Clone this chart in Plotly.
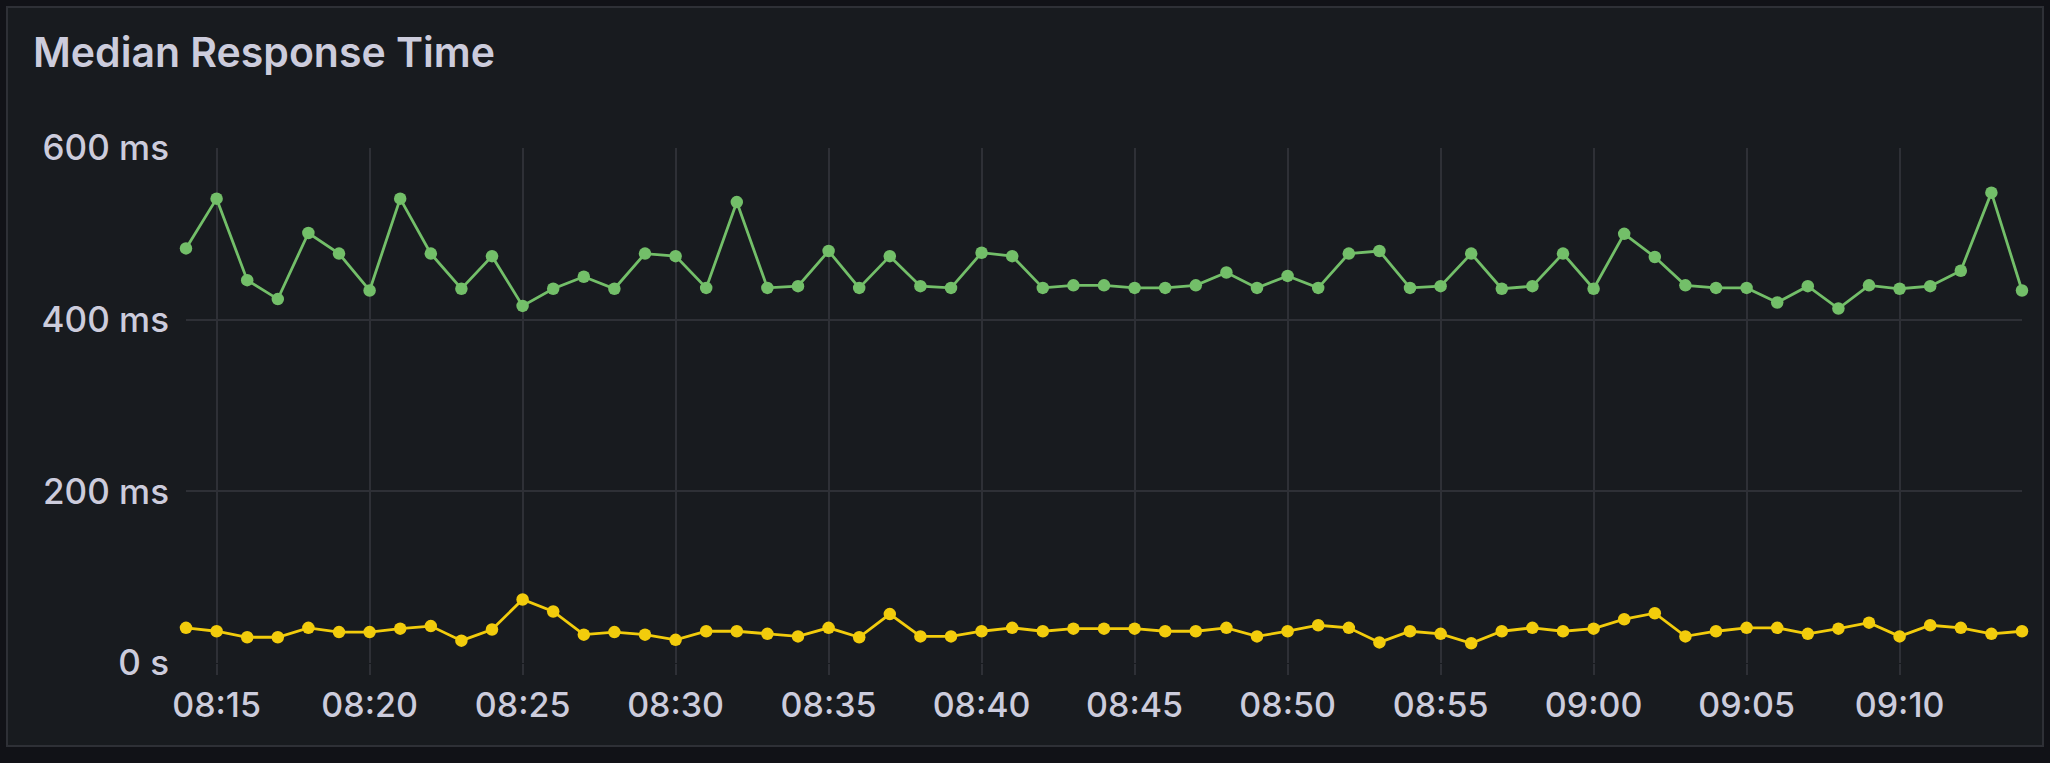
import plotly.graph_objects as go

# ---- data ----
DATE = "2024-01-01"
times = ["08:14", "08:15", "08:16", "08:17", "08:18", "08:19", "08:20", "08:21", "08:22", "08:23",
         "08:24", "08:25", "08:26", "08:27", "08:28", "08:29", "08:30", "08:31", "08:32", "08:33",
         "08:34", "08:35", "08:36", "08:37", "08:38", "08:39", "08:40", "08:41", "08:42", "08:43",
         "08:44", "08:45", "08:46", "08:47", "08:48", "08:49", "08:50", "08:51", "08:52", "08:53",
         "08:54", "08:55", "08:56", "08:57", "08:58", "08:59", "09:00", "09:01", "09:02", "09:03",
         "09:04", "09:05", "09:06", "09:07", "09:08", "09:09", "09:10", "09:11", "09:12", "09:13",
         "09:14"]

green_ms = [483, 541, 446, 424, 501, 477, 434, 541, 477, 436,
            474, 416, 436, 450, 436, 477, 474, 437, 537, 437,
            439, 480, 437, 474, 439, 437, 478, 474, 437, 440,
            440, 437, 437, 440, 455, 437, 451, 437, 477, 480,
            437, 439, 477, 436, 439, 477, 436, 500, 473, 440,
            437, 437, 420, 439, 413, 440, 436, 439, 457, 548,
            434]

yellow_ms = [41, 37, 30, 30, 41, 36, 36, 40, 43, 26,
             39, 74, 60, 33, 36, 33, 27, 37, 37, 34,
             31, 41, 30, 57, 31, 31, 37, 41, 37, 40,
             40, 40, 37, 37, 41, 31, 37, 44, 41, 24,
             37, 34, 23, 37, 41, 37, 40, 51, 58, 31,
             37, 41, 41, 34, 40, 47, 31, 44, 41, 34,
             37]

y_tick_vals = [0, 200, 400, 600]
y_tick_text = ["0 s", "200 ms", "400 ms", "600 ms"]
x_range = ["08:14", "09:14"]
x_tick0 = "08:15"
title_text = "Median Response Time"

# ---- styling ----
W, H = 2050, 763
L, R, T, B = 186, 28, 148, 100
PW, PH = W - L - R, H - T - B
BG_OUTER = "#111217"
BG_PANEL = "#181b1f"
GRID = "#2e3036"
TEXT = "#ccccdc"
GREEN = "#73BF69"
YELLOW = "#F2CC0C"


def px_x(p):
    return (p - L) / PW


def px_y(p):
    return 1 - (p - T) / PH


xs = [f"{DATE} {t}" for t in times]

fig = go.Figure()
for vals, col in ((green_ms, GREEN), (yellow_ms, YELLOW)):
    fig.add_trace(go.Scatter(
        x=xs, y=vals, mode="lines+markers",
        line=dict(color=col, width=2.8),
        marker=dict(color=col, size=12.5),
        cliponaxis=False, showlegend=False,
    ))

fig.add_shape(type="rect", xref="paper", yref="paper",
              x0=px_x(7), x1=px_x(2043), y0=px_y(746), y1=px_y(7),
              fillcolor=BG_PANEL, line=dict(color=GRID, width=2), layer="below")

fig.update_layout(
    width=W, height=H,
    margin=dict(l=L, r=R, t=T, b=B, pad=0),
    paper_bgcolor=BG_OUTER, plot_bgcolor=BG_PANEL,
    font=dict(family="Inter", color=TEXT, size=34),
    title=dict(text=title_text, x=33 / W, xanchor="left", xref="container",
               y=1 - 53 / H, yanchor="middle", yref="container",
               font=dict(family="Inter", size=41, color=TEXT, weight=600)),
    xaxis=dict(type="date", range=[f"{DATE} {x_range[0]}", f"{DATE} {x_range[1]}"],
               tick0=f"{DATE} {x_tick0}", dtick=300000, tickformat="%H:%M",
               showgrid=True, gridcolor=GRID, gridwidth=2,
               ticks="outside", ticklen=11, tickcolor=GRID, tickwidth=2,
               showline=False, zeroline=False, ticklabelstandoff=1,
               tickfont=dict(family="Inter", size=34, color=TEXT, weight=500)),
    yaxis=dict(range=[0, 600], tickvals=y_tick_vals, ticktext=y_tick_text,
               showgrid=True, gridcolor=GRID, gridwidth=2,
               showline=False, zeroline=False, ticks="", ticklabelstandoff=16,
               tickfont=dict(family="Inter", size=35, color=TEXT, weight=500)),
)

fig.write_html(
    "out.html",
    config={"displayModeBar": False},
    post_script="document.body.style.margin='0';document.body.style.background='#111217';",
)
